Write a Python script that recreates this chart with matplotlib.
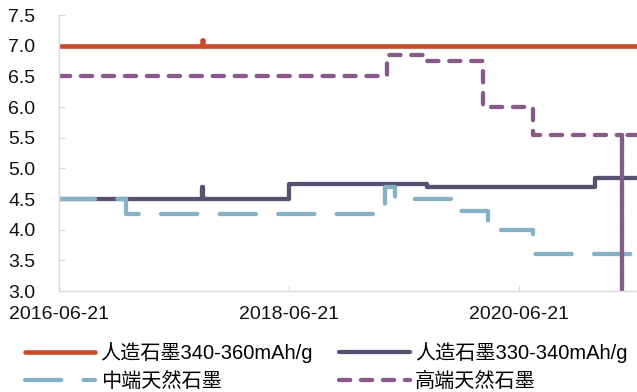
#!/usr/bin/env python3
"""
Graphite price steps (4 series), saved to out.png.
"""
import pandas as pd
import matplotlib
matplotlib.use("Agg")
import matplotlib.pyplot as plt
import matplotlib.dates as mdates

plt.rcParams['font.family'] = ['Liberation Sans', 'Noto Sans CJK SC', 'DejaVu Sans']

# change points of each series (value holds until next date)
art_high_dates = ["2016-06-21", "2017-09-19", "2017-09-20", "2021-07-01"]
art_high_vals = [7.0, 7.1, 7.0, 7.0]

art_low_dates = ["2016-06-21", "2017-09-19", "2017-09-20", "2018-06-20",
                 "2019-09-03", "2021-02-19", "2021-07-01"]
art_low_vals = [4.5, 4.7, 4.5, 4.75, 4.7, 4.85, 4.85]

nat_mid_dates = ["2016-06-21", "2017-01-19", "2019-04-23", "2019-05-24",
                 "2019-12-10", "2020-03-16", "2020-08-06", "2021-07-01"]
nat_mid_vals = [4.5, 4.25, 4.7, 4.5, 4.3, 4.0, 3.6, 3.6]

nat_high_dates = ["2016-06-21", "2019-04-28", "2019-08-31", "2020-02-27",
                  "2020-08-05", "2021-05-13", "2021-05-14", "2021-07-01"]
nat_high_vals = [6.5, 6.85, 6.75, 6.0, 5.55, 0.0, 5.55, 5.55]

labels = ["人造石墨340-360mAh/g", "人造石墨330-340mAh/g", "中端天然石墨", "高端天然石墨"]
x_ticks = ["2016-06-21", "2018-06-21", "2020-06-21"]
x_range = ["2016-06-21", "2021-07-01"]

fig = plt.figure(figsize=(6.37, 3.92), dpi=100)
ax = fig.add_axes([59 / 637, 101 / 392, 578 / 637, 276 / 392])

lw = 3.1
l1, = ax.plot(pd.to_datetime(art_high_dates), art_high_vals, drawstyle="steps-post",
              color="#CB4A2B", lw=3.3, solid_capstyle="round", label=labels[0])
l2, = ax.plot(pd.to_datetime(art_low_dates), art_low_vals, drawstyle="steps-post",
              color="#57516F", lw=lw, solid_capstyle="round", label=labels[1])
l3, = ax.plot(pd.to_datetime(nat_mid_dates), nat_mid_vals, drawstyle="steps-post",
              color="#85B1C6", lw=lw, dashes=(8.4, 5.2), dash_capstyle="round", label=labels[2])
l4, = ax.plot(pd.to_datetime(nat_high_dates), nat_high_vals, drawstyle="steps-post",
              color="#875A8A", lw=lw, dashes=(2.6, 2.5), dash_capstyle="round", label=labels[3])

ax.set_ylim(3.0, 7.5)
ax.set_yticks([3.0 + 0.5 * i for i in range(10)])
ax.yaxis.set_major_formatter(matplotlib.ticker.FormatStrFormatter("%.1f"))
ax.set_xlim(pd.to_datetime(x_range[0]), pd.to_datetime(x_range[1]))
ax.set_xticks(pd.to_datetime(x_ticks))
ax.xaxis.set_major_formatter(mdates.DateFormatter("%Y-%m-%d"))

for s in ["top", "right"]:
    ax.spines[s].set_visible(False)
for s in ["left", "bottom"]:
    ax.spines[s].set_color("#D9D9D9")
    ax.spines[s].set_linewidth(1.0)
ax.tick_params(axis="both", direction="in", color="#D9D9D9", length=4, labelsize=14,
               labelcolor="#111111")
ax.tick_params(axis="y", pad=17)
ax.tick_params(axis="x", pad=11)

# legend reads row by row: (red, dark) then (light blue, purple)
fig.legend([l1, l3, l2, l4], [labels[0], labels[2], labels[1], labels[3]],
           loc="upper left", bbox_to_anchor=(25 / 637, 1 - 342 / 392), ncol=2,
           frameon=False, fontsize=14.5, handlelength=3.5, handletextpad=0.25,
           columnspacing=1.3, labelspacing=0.45, borderpad=0, borderaxespad=0)

fig.savefig("out.png", dpi=100)
